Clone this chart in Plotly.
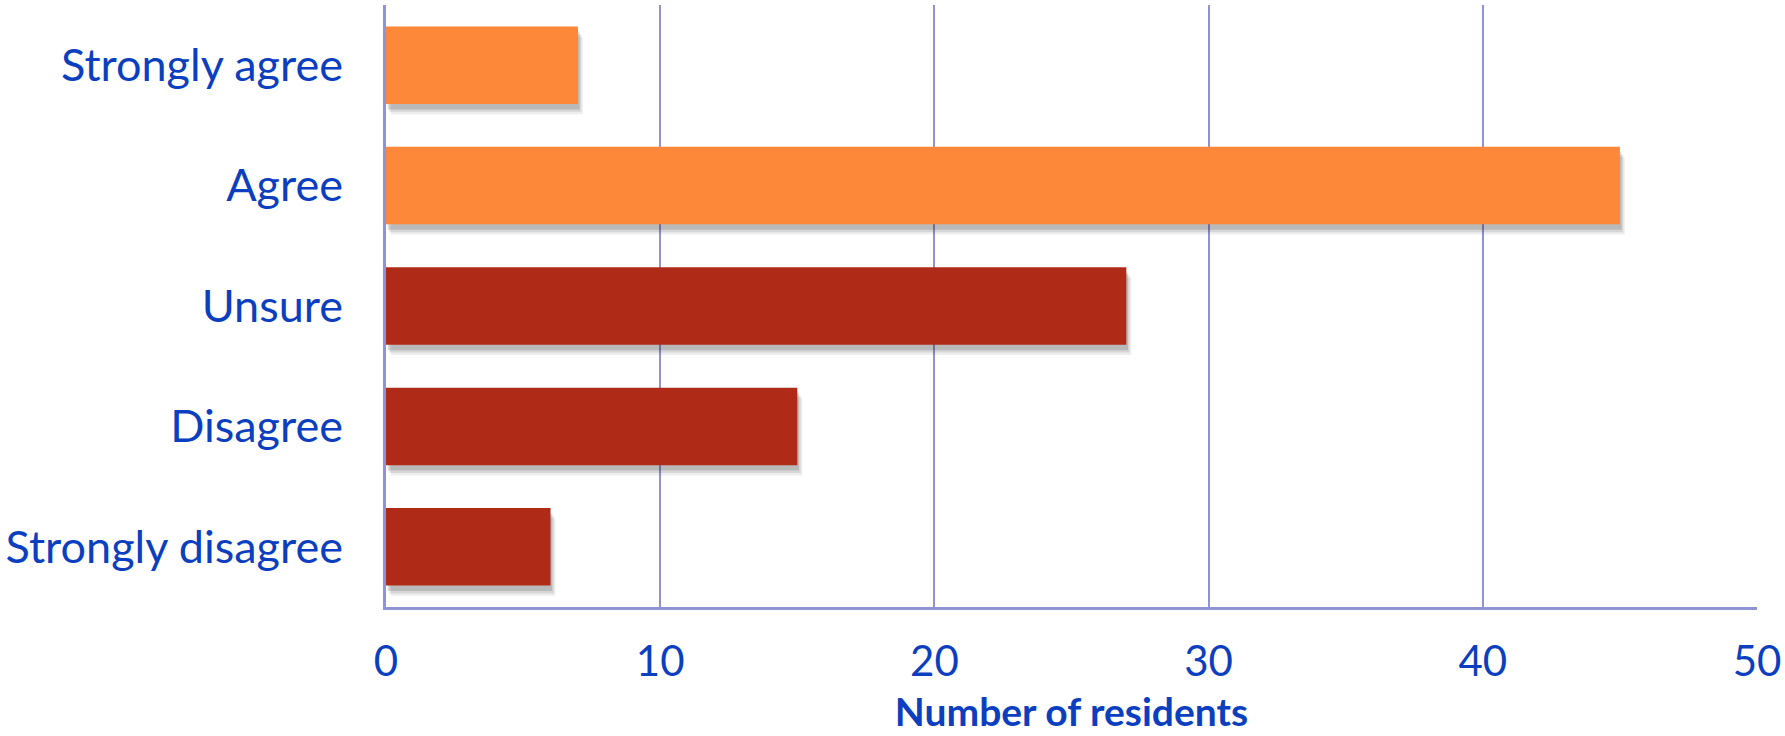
import plotly.graph_objects as go

# Survey responses
categories = ["Strongly agree", "Agree", "Unsure", "Disagree", "Strongly disagree"]
residents = [7, 45, 27, 15, 6]
bar_colors = ["#FD8839", "#FD8839", "#B02B17", "#B02B17", "#B02B17"]
x_ticks = [0, 10, 20, 30, 40, 50]

TEXT_BLUE = "#0B3FC0"
GRID = "#8F93D3"
FONT = "Lato, 'Open Sans', sans-serif"
BAR_W = 0.644

fig = go.Figure()

# soft drop shadow: a few translucent grey layers shifted down/right
for dy, dx, alpha in [(0.085, 0.18, 0.08), (0.065, 0.12, 0.12), (0.045, 0.06, 0.16)]:
    fig.add_trace(go.Bar(
        y=categories, x=residents, base=dx, orientation="h",
        width=BAR_W, offset=-BAR_W / 2 + dy,
        marker=dict(color=f"rgba(40,40,40,{alpha})", line=dict(width=0)),
        hoverinfo="skip", showlegend=False,
    ))

fig.add_trace(go.Bar(
    y=categories, x=residents, orientation="h",
    width=BAR_W, offset=-BAR_W / 2,
    marker=dict(color=bar_colors, line=dict(width=0)),
    showlegend=False,
))

fig.update_layout(
    width=1785, height=736,
    margin=dict(l=386, r=28, t=5, b=129),
    paper_bgcolor="white", plot_bgcolor="white",
    barmode="overlay",
    font=dict(family=FONT, color=TEXT_BLUE),
    xaxis=dict(
        range=[0, 50], tickvals=x_ticks, ticktext=[str(v) for v in x_ticks],
        showgrid=True, gridcolor=GRID, gridwidth=2,
        showline=True, linecolor=GRID, linewidth=3,
        zeroline=False, ticks="",
        tickfont=dict(size=42, color=TEXT_BLUE, family=FONT),
        ticklabelstandoff=16,
        title=dict(text="<b>Number of residents</b>",
                   font=dict(size=39, color=TEXT_BLUE, family=FONT),
                   standoff=15),
    ),
    yaxis=dict(
        type="category", categoryorder="array", categoryarray=categories,
        range=[4.5, -0.5],
        showgrid=False, showline=True, linecolor=GRID, linewidth=3,
        zeroline=False, ticks="",
        tickfont=dict(size=45, color=TEXT_BLUE, family=FONT),
        ticklabelstandoff=31,
    ),
)

fig.write_html("out.html")
